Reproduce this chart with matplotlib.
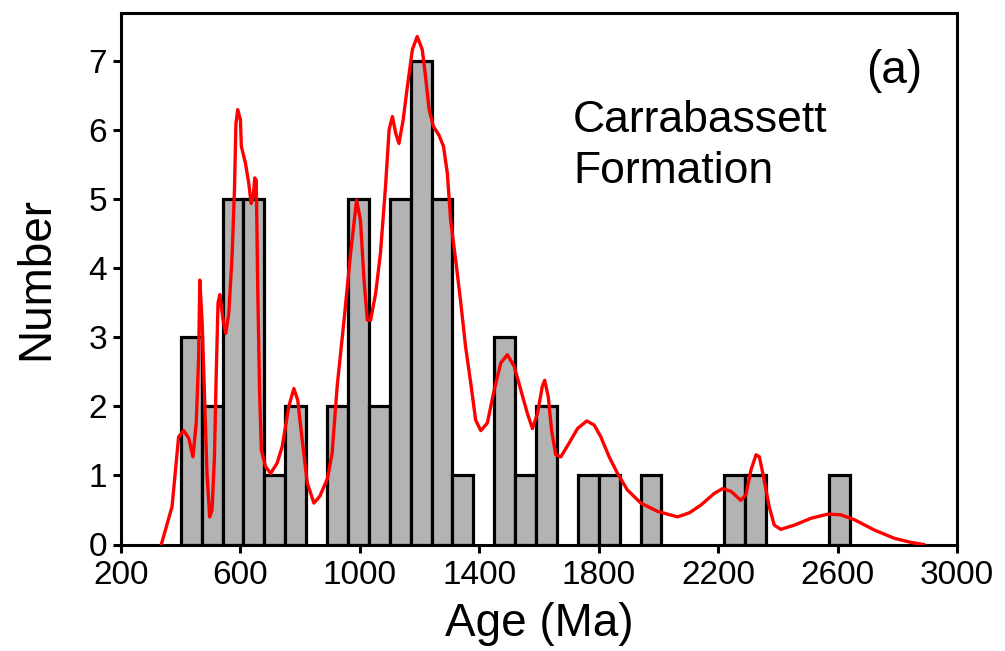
import numpy as np
import matplotlib
matplotlib.use("Agg")
import matplotlib.pyplot as plt

plt.rcParams['font.family'] = ['Liberation Sans', 'DejaVu Sans']

# histogram: 70 Ma bins starting at 400 Ma
bin_width = 70
bin_edges = [400 + bin_width * i for i in range(32)]
counts = [3, 2, 5, 5, 1, 2, 0, 2, 5, 2, 5, 7, 5, 1, 0, 3,
          1, 2, 0, 1, 1, 0, 1, 0, 0, 0, 1, 1, 0, 0, 0, 1]

# probability density curve (scaled to count axis)
curve_age = [335, 371, 393, 410, 427, 441, 452, 460, 464, 472,
             479, 488, 497, 505, 513, 519, 525, 531, 542, 551,
             561, 572, 580, 585, 591, 600, 603, 617, 628, 636,
             643, 648, 653, 658, 664, 670, 684, 701, 723, 740,
             762, 779, 792, 807, 824, 846, 866, 891, 907, 924,
             947, 969, 989, 1002, 1014, 1025, 1036, 1053, 1069, 1086,
             1098, 1109, 1120, 1131, 1145, 1159, 1176, 1192, 1209, 1220,
             1232, 1246, 1265, 1280, 1293, 1304, 1321, 1338, 1354, 1371,
             1388, 1405, 1427, 1450, 1472, 1494, 1517, 1539, 1561, 1578,
             1595, 1611, 1619, 1631, 1642, 1656, 1673, 1701, 1729, 1760,
             1785, 1807, 1835, 1863, 1896, 1941, 1997, 2064, 2104, 2142,
             2187, 2215, 2243, 2276, 2293, 2310, 2327, 2338, 2352, 2371,
             2388, 2410, 2455, 2511, 2567, 2611, 2656, 2723, 2790, 2846, 2888]
curve_n = [0.0, 0.55, 1.56, 1.65, 1.54, 1.27, 1.76, 2.72, 3.83, 3.2,
           2.24, 1.03, 0.40, 0.50, 1.27, 2.48, 3.50, 3.62, 3.25, 3.06,
           3.35, 4.17, 5.14, 6.10, 6.30, 6.15, 5.77, 5.52, 5.23, 4.94,
           5.04, 5.31, 5.28, 3.69, 2.24, 1.37, 1.13, 1.03, 1.18, 1.42,
           2.00, 2.26, 2.09, 1.51, 0.89, 0.60, 0.70, 0.95, 1.32, 2.29,
           3.25, 4.22, 4.99, 4.70, 3.83, 3.25, 3.25, 3.64, 4.22, 5.19,
           6.01, 6.20, 5.96, 5.81, 6.15, 6.63, 7.17, 7.36, 7.17, 6.78,
           6.30, 6.06, 5.93, 5.77, 5.38, 4.70, 4.12, 3.50, 2.87, 2.35,
           1.80, 1.65, 1.76, 2.24, 2.63, 2.75, 2.58, 2.24, 1.90, 1.68,
           1.90, 2.29, 2.38, 2.14, 1.66, 1.30, 1.27, 1.47, 1.68, 1.79,
           1.73, 1.56, 1.27, 1.03, 0.79, 0.60, 0.48, 0.40, 0.46, 0.57,
           0.74, 0.81, 0.77, 0.64, 0.72, 1.08, 1.30, 1.27, 0.98, 0.55,
           0.28, 0.22, 0.28, 0.38, 0.44, 0.43, 0.36, 0.21, 0.09, 0.03, 0.0]

xticks = [200, 600, 1000, 1400, 1800, 2200, 2600, 3000]
yticks = [0, 1, 2, 3, 4, 5, 6, 7]

fig = plt.figure(figsize=(10.05, 6.51), dpi=100)
ax = fig.add_axes([121/1005, 1 - 544.5/651, (957-121)/1005, (544.5-13)/651])

left = [e for e, c in zip(bin_edges, counts) if c > 0]
heights = [c for c in counts if c > 0]
ax.bar(left, heights, width=bin_width, align='edge', color='#b3b3b3',
       edgecolor='black', linewidth=2.3, zorder=2)
ax.plot(curve_age, curve_n, color='red', linewidth=2.4, zorder=3)

ax.set_xlim(200, 3000)
ax.set_ylim(0, 7.7)
ax.set_xticks(xticks)
ax.set_yticks(yticks)
ax.tick_params(direction='out', length=6, width=2.2, labelsize=24)
ax.tick_params(axis='x', pad=5)
ax.tick_params(axis='y', pad=4)
for s in ax.spines.values():
    s.set_linewidth(2.2)

ax.set_xlabel('Age (Ma)', fontsize=33, labelpad=8)
ax.set_ylabel('Number', fontsize=33, labelpad=22)

ax.text(0.9246, 0.868, '(a)', transform=ax.transAxes, fontsize=33,
        ha='center', va='baseline')
ax.text(0.5407, 0.776, 'Carrabassett', transform=ax.transAxes,
        fontsize=32, ha='left', va='baseline')
ax.text(0.5407, 0.680, 'Formation', transform=ax.transAxes,
        fontsize=32, ha='left', va='baseline')

fig.savefig('out.png', dpi=100)
